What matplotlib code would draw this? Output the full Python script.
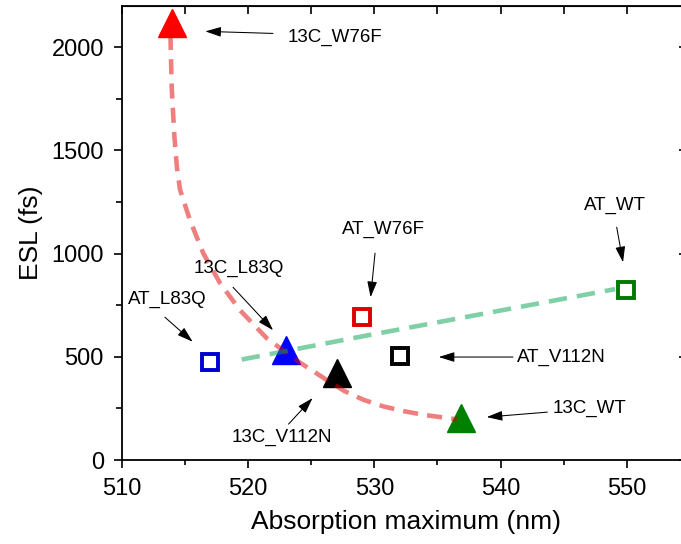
import numpy as np
import matplotlib
matplotlib.use("Agg")
import matplotlib.pyplot as plt

plt.rcParams['font.family'] = ['Liberation Sans', 'DejaVu Sans']

# 13C variants (triangles) and AT variants (open squares)
tri_labels = ["13C_W76F", "13C_L83Q", "13C_V112N", "13C_WT"]
tri_abs = [514.0, 523.0, 527.0, 536.9]
tri_esl = [2118, 532, 421, 202]
tri_colors = ["#ff0000", "#0000ff", "#000000", "#008000"]

sq_labels = ["AT_L83Q", "AT_W76F", "AT_V112N", "AT_WT"]
sq_abs = [517.0, 529.0, 532.0, 549.9]
sq_esl = [474, 694, 502, 826]
sq_colors = ["#0000cc", "#dd0000", "#000000", "#007a00"]

# guide curves
red_fit_x = [513.84, 513.94, 514.14, 514.35, 514.60, 515.39, 516.44, 517.77,
             519.35, 521.47, 522.80, 524.10, 526.22, 527.60, 529.12, 530.70,
             532.29, 534.00, 535.46, 536.55]
red_fit_y = [2060, 1807, 1580, 1420, 1310, 1162, 1002, 857,
             726, 590, 530, 472, 388, 335, 292, 260,
             237, 218, 206, 197]
green_fit_x = [519.49, 529.12, 549.07]
green_fit_y = [487, 600, 828]

# label layout: text, text position, alignment, arrow tail, arrow head
notes = [
    ("13C_W76F", (523.15, 2047), "left", (521.97, 2067), (516.6, 2077)),
    ("AT_W76F", (530.7, 1118), "center", (530.05, 1002), (529.7, 789)),
    ("13C_L83Q", (519.27, 929), "center", (518.8, 837), (521.97, 629)),
    ("AT_L83Q", (513.57, 779), "center", (513.4, 692), (515.6, 573)),
    ("13C_V112N", (522.68, 111), "center", (523.2, 174), (525.1, 300)),
    ("AT_V112N", (541.3, 499), "left", (540.98, 499), (535.1, 499)),
    ("13C_WT", (544.15, 252), "left", (543.7, 232), (538.9, 208)),
    ("AT_WT", (549.1, 1234), "center", (549.2, 1128), (549.7, 958)),
]

fig = plt.figure(figsize=(6.81, 5.44), dpi=100)
ax = fig.add_axes([0.1791, 0.1544, 0.834, 0.8346])

for x, y, c in zip(tri_abs, tri_esl, tri_colors):
    ax.plot(x, y, marker='^', ms=20, color=c, mec=c, ls='none', zorder=2)
for x, y, c in zip(sq_abs, sq_esl, sq_colors):
    ax.plot(x, y, marker='s', ms=12, mfc='white', mec=c, mew=2.8, ls='none', zorder=2)

ax.plot(red_fit_x, red_fit_y, color='#e00000', alpha=0.5, lw=3.3,
        dashes=(3.3, 2), zorder=3)
ax.plot(green_fit_x, green_fit_y, color='#00a050', alpha=0.5, lw=3.3,
        dashes=(4, 2.2), zorder=3)

for text, pos, ha, tail, head in notes:
    ax.text(pos[0], pos[1], text, ha=ha, va='center', fontsize=13.5)
    ax.annotate('', xy=head, xytext=tail,
                arrowprops=dict(arrowstyle='-|>,head_length=0.8,head_width=0.25',
                                mutation_scale=12, color='black', lw=0.75,
                                shrinkA=0, shrinkB=0))

ax.set_xlim(510, 555)
ax.set_ylim(0, 2200)
ax.set_xticks([510, 520, 530, 540, 550])
ax.set_xticks([515, 525, 535, 545], minor=True)
ax.set_yticks([0, 500, 1000, 1500, 2000])
ax.set_yticks([250, 750, 1250, 1750], minor=True)

ax.tick_params(axis='both', which='major', labelsize=17, width=1.2)
ax.tick_params(axis='x', which='major', direction='out', length=6, pad=7)
ax.tick_params(axis='x', which='minor', direction='out', length=3.5, width=1.2)
ax.tick_params(axis='y', which='major', direction='out', length=6, pad=7)
ax.tick_params(axis='y', which='minor', direction='out', length=4, width=1.2)
for s in ax.spines.values():
    s.set_linewidth(1.3)

# inward ticks on the top and right edges, no labels
top = ax.secondary_xaxis('top')
top.set_xticks([510, 515, 520, 525, 530, 535, 540, 545, 550])
top.tick_params(direction='in', length=6, width=1.2, labeltop=False)
right = ax.secondary_yaxis('right')
right.set_yticks([0, 500, 1000, 1500, 2000])
right.tick_params(direction='in', length=8, width=1.2, labelright=False)

ax.set_xlabel("Absorption maximum (nm)", fontsize=19, labelpad=7)
ax.set_ylabel("ESL (fs)", fontsize=19, labelpad=6)

fig.savefig("out.png", dpi=100)
